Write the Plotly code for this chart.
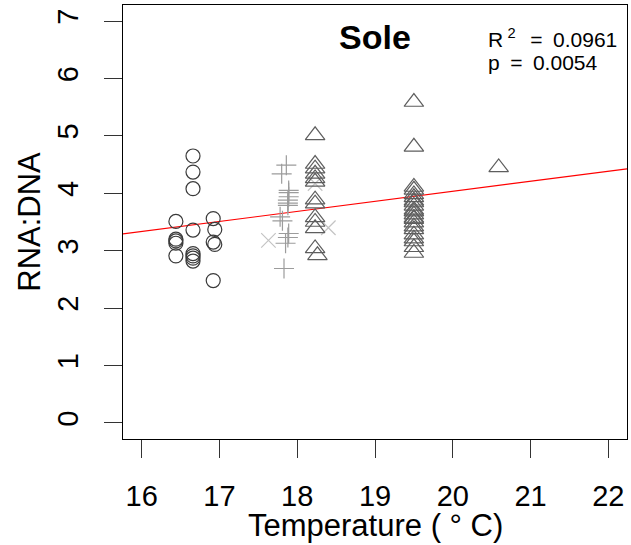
import plotly.graph_objects as go

# Temperature (°C) and RNA:DNA ratio of sole, one group per sampling cruise
circle_temp = [16.44, 16.44, 16.44, 16.44, 16.44,
               16.66, 16.66, 16.66, 16.66, 16.66, 16.66, 16.66, 16.66,
               16.92, 16.94, 16.92, 16.94, 16.92]
circle_ratio = [3.51, 3.20, 3.17, 3.13, 2.91,
                4.65, 4.37, 4.08, 3.36, 2.95, 2.91, 2.87, 2.82,
                3.56, 3.37, 3.15, 3.11, 2.48]

plus_temp = [17.86, 17.80, 17.89, 17.89, 17.89, 17.88, 17.88, 17.88,
             17.78, 17.81, 17.89, 17.88, 17.85, 17.83]
plus_ratio = [4.49, 4.34, 4.05, 4.01, 3.94, 3.88, 3.83, 3.79,
              3.59, 3.52, 3.30, 3.23, 3.13, 2.69]

cross_temp = [17.63, 18.40, 18.23]
cross_ratio = [3.18, 3.40, 4.17]

tri_temp = [18.23, 18.23, 18.23, 18.23, 18.23, 18.23, 18.23, 18.23,
            18.23, 18.23, 18.23, 18.23, 18.26,
            19.50, 19.50, 19.50, 19.50, 19.50, 19.50, 19.50, 19.50, 19.50,
            19.50, 19.50, 19.50, 19.50, 19.50, 19.50, 19.50, 19.50, 19.50,
            19.50, 19.50, 19.50, 19.50,
            20.59]
tri_ratio = [5.01, 4.51, 4.43, 4.34, 4.26, 4.20, 3.89, 3.82,
             3.58, 3.50, 3.39, 3.04, 2.92,
             5.59, 4.81, 4.11, 4.06, 3.98, 3.93, 3.87, 3.84, 3.78,
             3.71, 3.68, 3.63, 3.57, 3.55, 3.49, 3.42, 3.37, 3.28,
             3.21, 3.16, 3.06, 2.96,
             4.45]

# Linear fit RNA:DNA ~ temperature
fit_intercept = 0.534
fit_slope = 0.175
fit_r2 = "0.0961"
fit_p = "0.0054"

x_ticks = [16, 17, 18, 19, 20, 21, 22]
y_ticks = [0, 1, 2, 3, 4, 5, 6, 7]
x_range = [15.76, 22.24]
y_range = [-0.28, 7.28]

FONT = "Liberation Sans, Arial, Helvetica, sans-serif"
EN = "\u2002"
THIN = "\u2009"

fig = go.Figure()

fig.add_trace(go.Scatter(
    x=x_range,
    y=[fit_intercept + fit_slope * t for t in x_range],
    mode="lines", line=dict(color="#ff0000", width=1.2),
    hoverinfo="skip", showlegend=False))

fig.add_trace(go.Scatter(
    x=circle_temp, y=circle_ratio, mode="markers", showlegend=False,
    marker=dict(symbol="circle-open", size=14, color="#3a3a3a",
                line=dict(width=1.2, color="#3a3a3a"))))

fig.add_trace(go.Scatter(
    x=plus_temp, y=plus_ratio, mode="markers", showlegend=False,
    marker=dict(symbol="cross-thin-open", size=14.3, color="#9c9c9c",
                line=dict(width=1.2, color="#9c9c9c"))))

fig.add_trace(go.Scatter(
    x=cross_temp, y=cross_ratio, mode="markers", showlegend=False,
    marker=dict(symbol="x-thin-open", size=14.5, color="#c4c4c4",
                line=dict(width=1.2, color="#c4c4c4"))))

fig.add_trace(go.Scatter(
    x=tri_temp, y=tri_ratio, mode="markers", showlegend=False,
    marker=dict(symbol="triangle-up-open", size=17, color="#5e5e5e",
                line=dict(width=1.2, color="#5e5e5e"))))

fig.add_annotation(
    x=19, y=6.73, xref="x", yref="y", text="<b>Sole</b>", showarrow=False,
    xanchor="center", yanchor="middle",
    font=dict(family=FONT, size=34, color="black"))

fig.add_annotation(
    x=0.72, y=0.925, xref="paper", yref="paper",
    text="R" + THIN + "<sup>2</sup>" + THIN + EN + "=" + EN + fit_r2,
    showarrow=False, xanchor="left", yanchor="middle",
    font=dict(family=FONT, size=21, color="black"))

fig.add_annotation(
    x=0.72, y=0.868, xref="paper", yref="paper",
    text="p" + EN + "=" + EN + fit_p, showarrow=False,
    xanchor="left", yanchor="middle",
    font=dict(family=FONT, size=21, color="black"))

# Axis titles
fig.add_annotation(
    x=0.5, y=-0.2, xref="paper", yref="paper",
    text="Temperature ( ° C)", showarrow=False,
    xanchor="center", yanchor="middle",
    font=dict(family=FONT, size=31, color="black"))

fig.add_annotation(
    x=-0.187, y=0.5, xref="paper", yref="paper",
    text="RNA:DNA", showarrow=False, textangle=-90,
    xanchor="center", yanchor="middle",
    font=dict(family=FONT, size=31, color="black"))

axis_common = dict(
    showgrid=False, zeroline=False, showline=True, linecolor="black",
    linewidth=1.2, mirror=True, ticks="outside", ticklen=18,
    tickcolor="#333333", tickwidth=1.2,
    tickfont=dict(family=FONT, size=29, color="black"))

fig.update_xaxes(range=x_range, tickvals=x_ticks, ticklabelstandoff=13,
                 **axis_common)

fig.update_yaxes(range=y_range, tickvals=y_ticks, tickangle=-90,
                 ticklabelstandoff=14, **axis_common)

fig.update_layout(
    width=631, height=545,
    margin=dict(l=123, r=4, t=5, b=106),
    paper_bgcolor="white", plot_bgcolor="white",
    font=dict(family=FONT))

fig.write_html("out.html")
